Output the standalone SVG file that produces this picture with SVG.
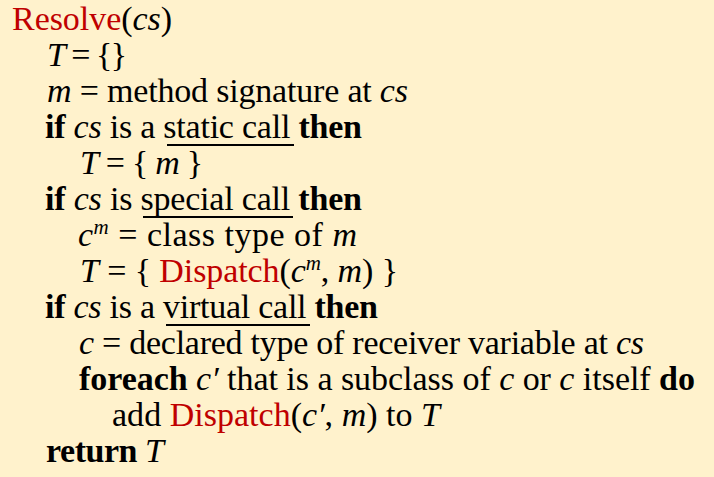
<svg xmlns="http://www.w3.org/2000/svg" width="714" height="477" viewBox="0 0 714 477">
<style>
text{font-family:"Liberation Serif","Times New Roman",serif;font-size:34px;fill:#000}
.i{font-style:italic}
.b{font-weight:bold}
.r{fill:#C00000}
.sup{font-size:21px;font-style:italic}
.ul{stroke:#000;stroke-width:2}
</style>
<rect x="0" y="0" width="714" height="477" fill="#FFF2CC"/>
<g id="algorithm">
<text x="12" y="30" textLength="160"><tspan class="r">Resolve</tspan>(<tspan class="i">cs</tspan>)</text>
<text x="47" y="66" textLength="80"><tspan class="i">T</tspan> = {}</text>
<text x="47" y="102" textLength="361"><tspan class="i">m</tspan> = method signature at <tspan class="i">cs</tspan></text>
<text x="45" y="138" textLength="317"><tspan class="b">if</tspan> <tspan class="i">cs</tspan> is a static call <tspan class="b">then</tspan></text>
<text x="80" y="174" textLength="123"><tspan class="i">T</tspan> = { <tspan class="i">m</tspan> }</text>
<text x="45" y="210" textLength="317"><tspan class="b">if</tspan> <tspan class="i">cs</tspan> is special call <tspan class="b">then</tspan></text>
<text x="78" y="246" textLength="279"><tspan class="i">c</tspan><tspan class="sup" dy="-12">m</tspan><tspan dy="12"> = class type of </tspan><tspan class="i">m</tspan></text>
<text x="80" y="282" textLength="318"><tspan class="i">T</tspan> = { <tspan class="r">Dispatch</tspan>(<tspan class="i">c</tspan><tspan class="sup" dy="-12">m</tspan><tspan dy="12">, </tspan><tspan class="i">m</tspan>) }</text>
<text x="45" y="318" textLength="333"><tspan class="b">if</tspan> <tspan class="i">cs</tspan> is a virtual call <tspan class="b">then</tspan></text>
<text x="79" y="354" textLength="565"><tspan class="i">c</tspan> = declared type of receiver variable at <tspan class="i">cs</tspan></text>
<text x="79" y="390" textLength="616"><tspan class="b">foreach</tspan> <tspan class="i">c′</tspan> that is a subclass of <tspan class="i">c</tspan> or <tspan class="i">c</tspan> itself  <tspan class="b">do</tspan></text>
<text x="112" y="426" textLength="328">add <tspan class="r">Dispatch</tspan>(<tspan class="i">c′</tspan>, <tspan class="i">m</tspan>) to <tspan class="i">T</tspan></text>
<text x="46" y="462" textLength="118"><tspan class="b">return</tspan> <tspan class="i">T</tspan></text>
<line class="ul" x1="167" y1="145" x2="294" y2="145"/>
<line class="ul" x1="143" y1="217" x2="293" y2="217"/>
<line class="ul" x1="166" y1="325" x2="310" y2="325"/>
</g>
</svg>
